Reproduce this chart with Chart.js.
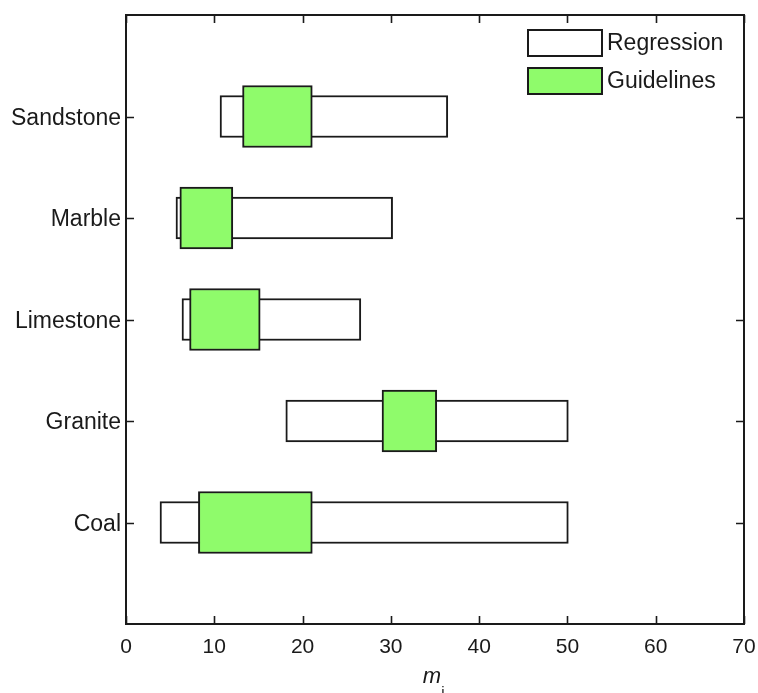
<!DOCTYPE html>
<html>
<head>
<meta charset="utf-8">
<title>m_i ranges by rock type</title>
<script src="https://cdn.jsdelivr.net/npm/chart.js@4.4.1/dist/chart.umd.min.js"></script>
<style>
  html, body { margin: 0; padding: 0; background: #ffffff; }
  canvas { display: block; }
</style>
</head>
<body>
<canvas id="chart" width="758" height="693"></canvas>
<script>
// Rock types, top to bottom
const categories = ['Sandstone', 'Marble', 'Limestone', 'Granite', 'Coal'];

// m_i range obtained from regression
const regressionLow  = [10.65, 5.66, 6.34, 18.1, 3.85];
const regressionHigh = [36.45, 30.2, 26.6, 50.1, 50.1];

// m_i range given by the guidelines
const guidelineLow  = [13.2, 6.1, 7.2, 29.0, 8.2];
const guidelineHigh = [21.1, 12.1, 15.2, 35.2, 21.1];

// x-axis tick values
const xTickValues = [0, 10, 20, 30, 40, 50, 60, 70];

// empty slots above and below leave room around the outer bars
const yLabels = [''].concat(categories, ['']);
const pairs = (lo, hi) => [null].concat(lo.map((v, i) => [v, hi[i]]), [null]);

const FONT = "'Liberation Sans', Arial, Helvetica, sans-serif";
const INK = '#1a1a1a';

// Box, inward tick marks, legend and axis title, MATLAB style
const framePlugin = {
  id: 'frame',
  afterDraw(chart) {
    const { ctx, chartArea: a } = chart;
    const xs = chart.scales.x, ys = chart.scales.y;
    const tl = 8;
    ctx.save();
    ctx.strokeStyle = INK;
    ctx.lineWidth = 2;
    ctx.strokeRect(a.left, a.top, a.right - a.left, a.bottom - a.top);

    ctx.lineWidth = 1.6;
    ctx.beginPath();
    xs.ticks.forEach(t => {
      const px = Math.round(xs.getPixelForValue(t.value)) + 0.5;
      ctx.moveTo(px, a.bottom); ctx.lineTo(px, a.bottom - tl);
      ctx.moveTo(px, a.top); ctx.lineTo(px, a.top + tl);
    });
    ys.ticks.forEach((t, i) => {
      if (!yLabels[t.value]) return;
      const py = Math.round(ys.getPixelForTick(i)) + 0.5;
      ctx.moveTo(a.left, py); ctx.lineTo(a.left + tl, py);
      ctx.moveTo(a.right, py); ctx.lineTo(a.right - tl, py);
    });
    ctx.stroke();

    // legend, stacked in the upper right corner of the plot
    const items = [chart.data.datasets[0], chart.data.datasets[1]];
    const bw = 74, bh = 26, gap = 12;
    const bx = a.right - 216;
    let by = a.top + 15;
    ctx.font = '23px ' + FONT;
    ctx.textBaseline = 'middle';
    ctx.textAlign = 'left';
    items.forEach(ds => {
      ctx.fillStyle = ds.backgroundColor;
      ctx.fillRect(bx, by, bw, bh);
      ctx.lineWidth = 2;
      ctx.strokeStyle = INK;
      ctx.strokeRect(bx, by, bw, bh);
      ctx.fillStyle = INK;
      ctx.fillText(ds.label, bx + bw + 5, by + bh / 2 + 1);
      by += bh + gap;
    });

    // x-axis title: italic m with subscript i
    const cx = (a.left + a.right) / 2;
    ctx.textBaseline = 'alphabetic';
    ctx.font = 'italic 22px ' + FONT;
    const mw = ctx.measureText('m').width;
    ctx.fillText('m', cx - mw / 2 - 3, 683);
    ctx.font = '15px ' + FONT;
    ctx.fillText('i', cx + mw / 2 - 3, 697);
    ctx.restore();
  }
};

new Chart(document.getElementById('chart'), {
  type: 'bar',
  data: {
    labels: yLabels,
    datasets: [
      {
        label: 'Regression',
        data: pairs(regressionLow, regressionHigh),
        backgroundColor: '#ffffff',
        borderColor: INK,
        borderWidth: 2,
        borderSkipped: false,
        barThickness: 42,
        order: 2
      },
      {
        label: 'Guidelines',
        data: pairs(guidelineLow, guidelineHigh),
        backgroundColor: '#8ffb6b',
        borderColor: INK,
        borderWidth: 2,
        borderSkipped: false,
        barThickness: 62,
        order: 1
      }
    ]
  },
  options: {
    indexAxis: 'y',
    responsive: false,
    animation: false,
    layout: { padding: { top: 15, right: 14, left: 0, bottom: 0 } },
    plugins: {
      legend: { display: false },
      tooltip: { enabled: false }
    },
    datasets: { bar: { grouped: false } },
    scales: {
      x: {
        type: 'linear',
        min: 0,
        max: 70,
        afterBuildTicks(scale) {
          scale.ticks = xTickValues.map(v => ({ value: v }));
        },
        afterFit(scale) {
          scale.height = 69;
          scale.paddingLeft = 0;
          scale.paddingRight = 0;
        },
        grid: { display: false, drawTicks: false },
        border: { display: false },
        ticks: {
          padding: 11,
          color: INK,
          font: { family: FONT, size: 21 }
        }
      },
      y: {
        type: 'category',
        offset: false,
        afterFit(scale) {
          scale.width = 126;
          scale.paddingTop = 0;
          scale.paddingBottom = 0;
        },
        grid: { display: false, drawTicks: false },
        border: { display: false },
        ticks: {
          padding: 5,
          labelOffset: 2,
          color: INK,
          autoSkip: false,
          font: { family: FONT, size: 23 }
        }
      }
    }
  },
  plugins: [framePlugin]
});
</script>
</body>
</html>
